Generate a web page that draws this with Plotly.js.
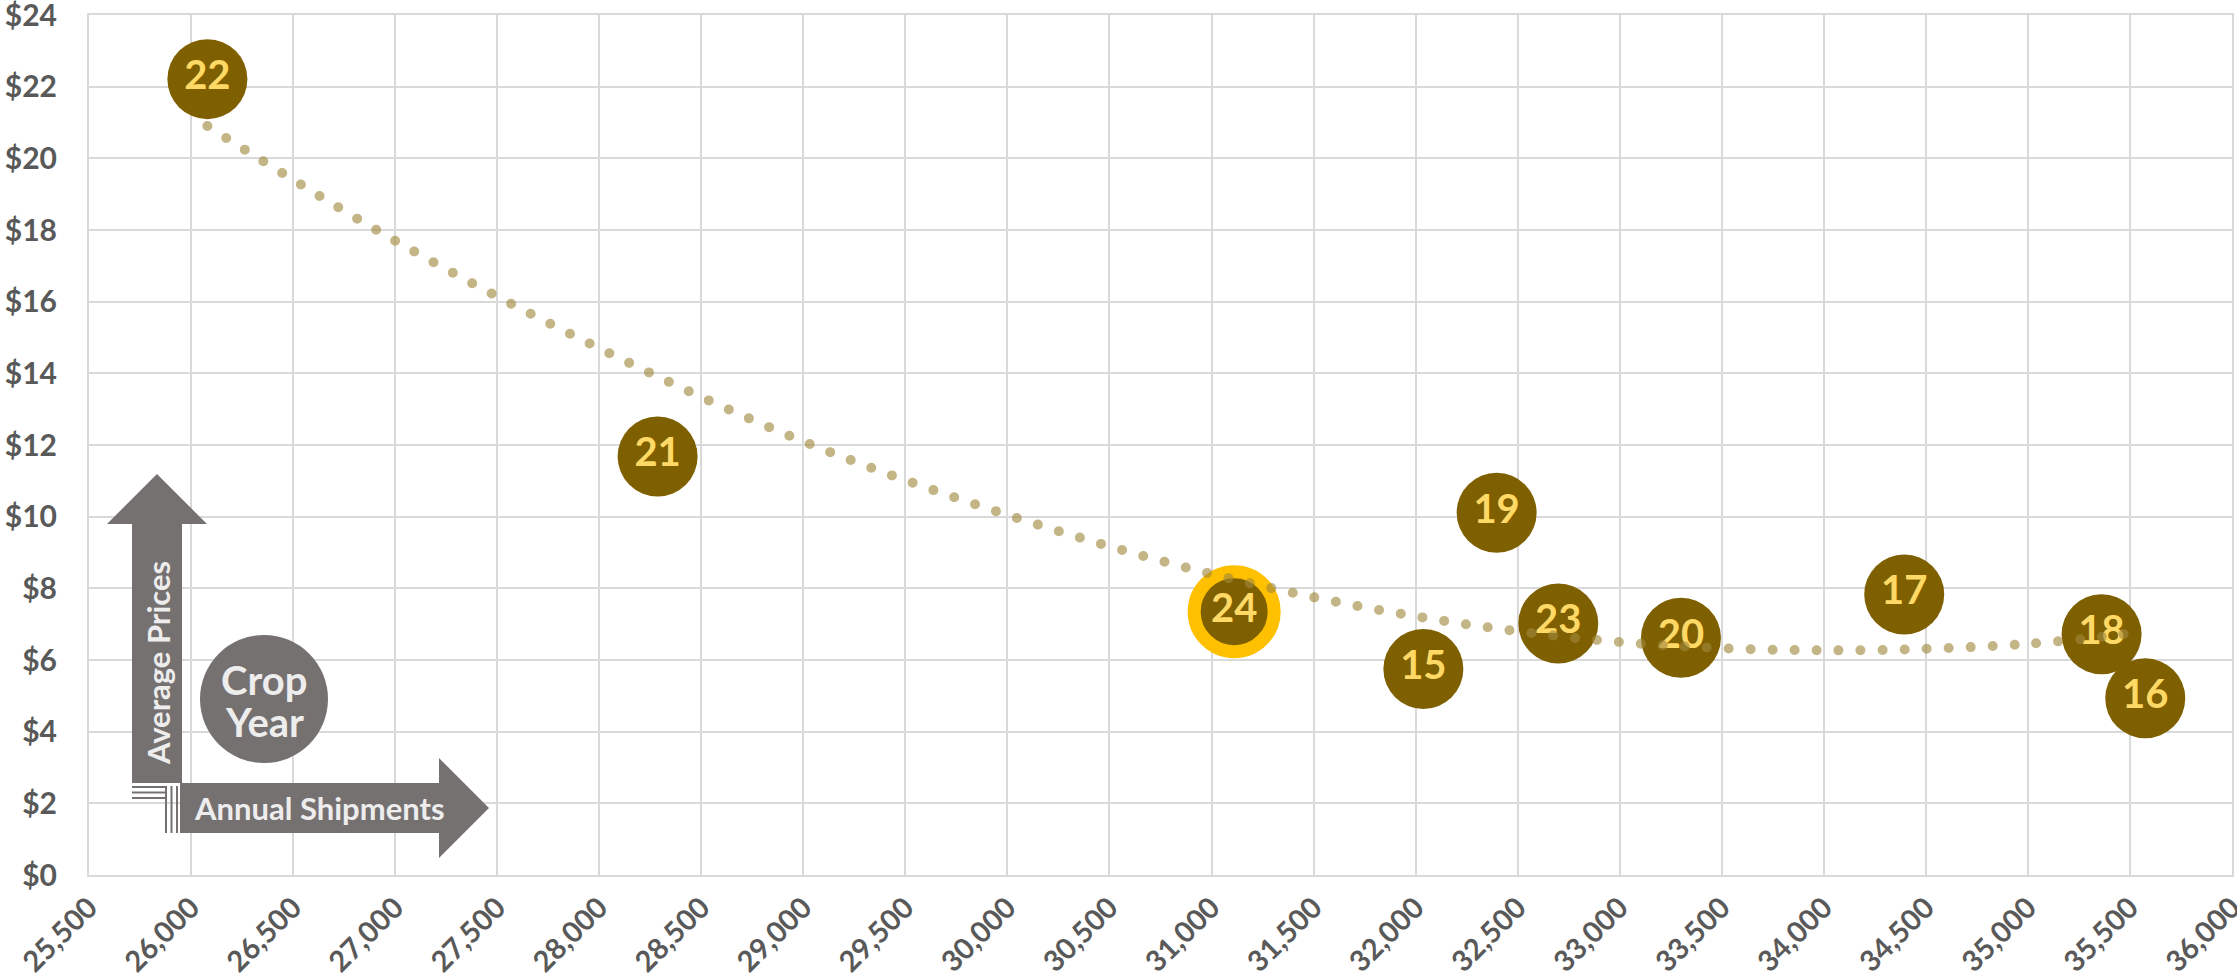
<!DOCTYPE html>
<html>
<head>
<meta charset="utf-8">
<script src="https://cdn.plot.ly/plotly-3.0.1.min.js"></script>
<style>
  html, body { margin: 0; padding: 0; background: #ffffff; }
  #chart { width: 2237px; height: 977px; }
</style>
</head>
<body>
<div id="chart"></div>
<script>
// ---- data ----
const cropYears = ['15', '16', '17', '18', '19', '20', '21', '22', '23', '24'];
const shipments = [32038, 35575, 34394, 35361, 32397, 33300, 28286, 26080, 32699, 31111];
const avgPrices = [5.75, 4.93, 7.83, 6.72, 10.11, 6.62, 11.68, 22.21, 7.02, 7.35];
const highlightYear = '24';

// trendline (Excel polynomial trend)
const trendX = [26080, 27000, 28000, 29000, 30000, 31000, 32000, 33000, 34000, 35000, 35575];
const trendY = [20.9, 17.7, 14.7, 12.1, 10.05, 8.4, 7.22, 6.5, 6.27, 6.45, 6.8];

const yTickVals = [0, 2, 4, 6, 8, 10, 12, 14, 16, 18, 20, 22, 24];
const yTickText = ['$0', '$2', '$4', '$6', '$8', '$10', '$12', '$14', '$16', '$18', '$20', '$22', '$24'];
const xTickVals = [25500, 26000, 26500, 27000, 27500, 28000, 28500, 29000, 29500, 30000, 30500,
                   31000, 31500, 32000, 32500, 33000, 33500, 34000, 34500, 35000, 35500, 36000];
const xTickText = ['25,500', '26,000', '26,500', '27,000', '27,500', '28,000', '28,500', '29,000',
                   '29,500', '30,000', '30,500', '31,000', '31,500', '32,000', '32,500', '33,000',
                   '33,500', '34,000', '34,500', '35,000', '35,500', '36,000'];

// ---- layout geometry ----
const W = 2237, H = 977;
const M = { l: 89, r: 5, t: 15, b: 102 };
const PW = W - M.l - M.r, PH = H - M.t - M.b;
const px = x => (x - M.l) / PW;
const py = y => (M.t + PH - y) / PH;
const P = (x, y) => px(x).toFixed(5) + ',' + py(y).toFixed(5);

const brown = '#7F6000';
const gold = '#FFC000';
const labelYellow = '#FFD966';
const legendGray = '#767171';
const legendText = '#EDEDED';
const tickGray = '#595959';
const FONT = 'Lato, "Open Sans", sans-serif';

const markerLineW = cropYears.map(y => y === highlightYear ? 13 : 0);
const markerLineC = cropYears.map(y => y === highlightYear ? gold : brown);

const traces = [
  {
    type: 'scatter',
    mode: 'markers+text',
    x: shipments,
    y: avgPrices,
    text: cropYears,
    textposition: 'middle center',
    textfont: { family: FONT, size: 40, color: labelYellow, weight: 700 },
    marker: { size: 80, color: brown, line: { width: markerLineW, color: markerLineC } },
    hoverinfo: 'x+y+text',
    showlegend: false,
    cliponaxis: false
  },
  {
    type: 'scatter',
    mode: 'lines',
    x: trendX,
    y: trendY,
    line: { color: 'rgba(160,135,60,0.62)', width: 10, shape: 'spline', smoothing: 1.0 },
    hoverinfo: 'skip',
    showlegend: false
  }
];

// ---- legend graphic (decoration) ----
const shapes = [
  { type: 'path', xref: 'paper', yref: 'paper', layer: 'above',
    path: 'M' + P(132, 783) + ' L' + P(132, 524) + ' L' + P(107, 524) + ' L' + P(157, 474) +
          ' L' + P(207, 524) + ' L' + P(182, 524) + ' L' + P(182, 783) + ' Z',
    fillcolor: legendGray, line: { width: 0 } },
  { type: 'path', xref: 'paper', yref: 'paper', layer: 'above',
    path: 'M' + P(180, 783) + ' L' + P(439, 783) + ' L' + P(439, 758) + ' L' + P(489, 808) +
          ' L' + P(439, 858) + ' L' + P(439, 833) + ' L' + P(180, 833) + ' Z',
    fillcolor: legendGray, line: { width: 0 } },
  { type: 'circle', xref: 'paper', yref: 'paper', layer: 'above',
    x0: px(200), x1: px(328), y0: py(763), y1: py(635),
    fillcolor: legendGray, line: { width: 0 } }
];
[787, 792.5, 798].forEach(yy => shapes.push({
  type: 'line', xref: 'paper', yref: 'paper', layer: 'above',
  x0: px(132), x1: px(165), y0: py(yy), y1: py(yy),
  line: { color: legendGray, width: 2 } }));
[166, 171.5, 177].forEach(xx => shapes.push({
  type: 'line', xref: 'paper', yref: 'paper', layer: 'above',
  x0: px(xx), x1: px(xx), y0: py(786), y1: py(833),
  line: { color: legendGray, width: 2 } }));

const annotations = [
  { xref: 'paper', yref: 'paper', x: px(264), y: py(680), text: 'Crop', showarrow: false,
    xanchor: 'center', yanchor: 'middle',
    font: { family: FONT, size: 40, color: legendText, weight: 700 } },
  { xref: 'paper', yref: 'paper', x: px(264), y: py(722), text: 'Year', showarrow: false,
    xanchor: 'center', yanchor: 'middle',
    font: { family: FONT, size: 40, color: legendText, weight: 700 } },
  { xref: 'paper', yref: 'paper', x: px(158), y: py(663), text: 'Average Prices', showarrow: false,
    textangle: -90, xanchor: 'center', yanchor: 'middle',
    font: { family: FONT, size: 31, color: legendText, weight: 700 } },
  { xref: 'paper', yref: 'paper', x: px(319), y: py(808), text: 'Annual Shipments', showarrow: false,
    xanchor: 'center', yanchor: 'middle',
    font: { family: FONT, size: 31, color: legendText, weight: 700 } }
];

const layout = {
  width: W, height: H,
  margin: M,
  paper_bgcolor: '#ffffff',
  plot_bgcolor: '#ffffff',
  showlegend: false,
  xaxis: {
    range: [25500, 36000],
    tickmode: 'array',
    tickvals: xTickVals,
    ticktext: xTickText,
    tickangle: -45,
    ticks: '',
    ticklabelstandoff: 2,
    ticklabeloverflow: 'allow',
    tickfont: { family: FONT, size: 29, color: tickGray, weight: 700 },
    showgrid: true, gridcolor: '#D9D9D9', gridwidth: 2,
    zeroline: false,
    showline: true, linecolor: '#D9D9D9', linewidth: 2, mirror: true
  },
  yaxis: {
    range: [0, 24],
    tickmode: 'array',
    tickvals: yTickVals,
    ticktext: yTickText,
    ticks: '',
    ticklabelstandoff: 24,
    ticklabeloverflow: 'allow',
    tickfont: { family: FONT, size: 30, color: tickGray, weight: 700 },
    showgrid: true, gridcolor: '#D9D9D9', gridwidth: 2,
    zeroline: false,
    showline: true, linecolor: '#D9D9D9', linewidth: 2, mirror: true
  },
  shapes: shapes,
  annotations: annotations
};

Plotly.newPlot('chart', traces, layout, { displayModeBar: false, staticPlot: true }).then(() => {
  const tr = document.querySelectorAll('.scatterlayer .trace');
  if (tr.length > 1) {
    const p = tr[1].querySelector('path.js-line');
    if (p) {
      p.style.strokeDasharray = '0 22';
      p.style.strokeLinecap = 'round';
    }
  }
});
</script>
</body>
</html>
